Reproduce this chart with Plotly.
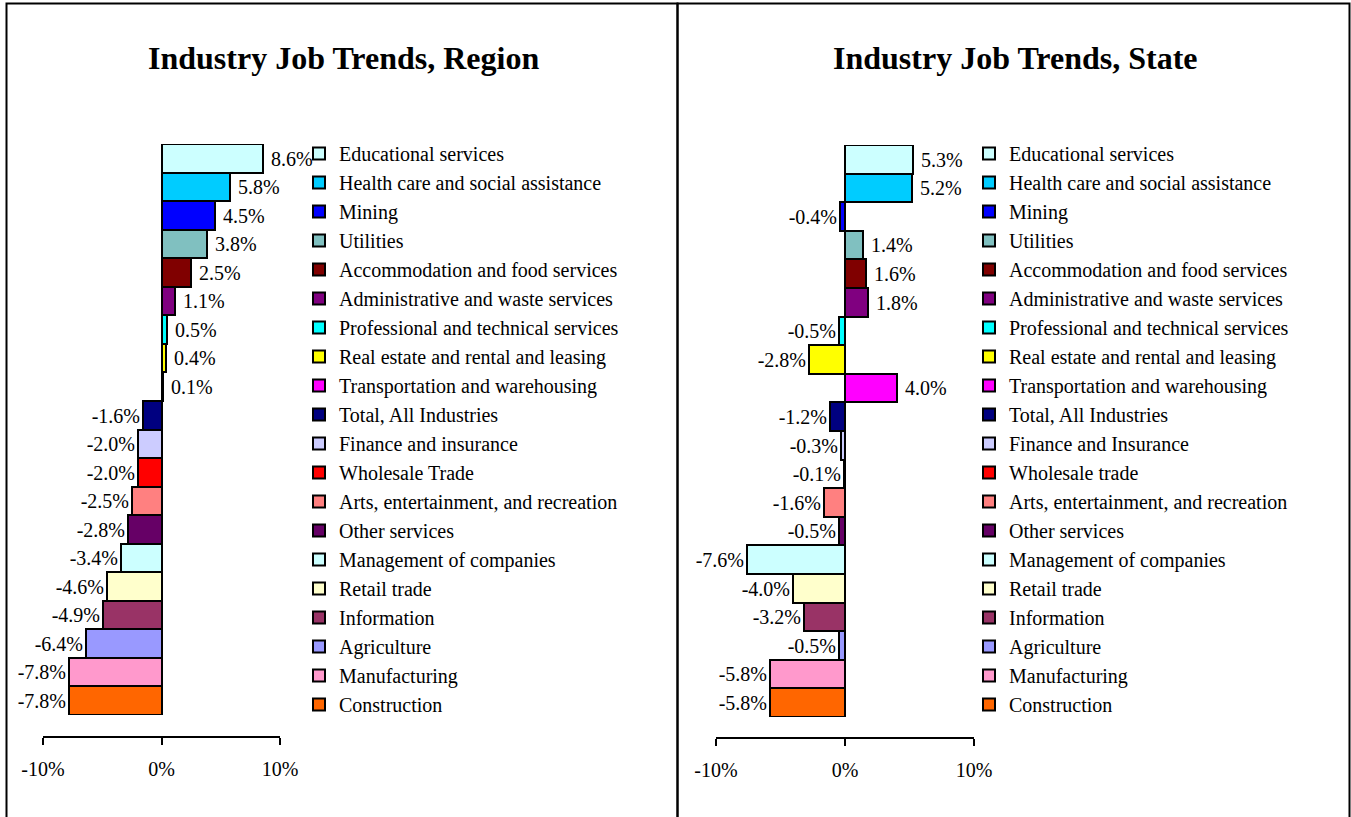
import plotly.graph_objects as go

# ---------------- data ----------------
categories_region = [
    "Educational services", "Health care and social assistance", "Mining", "Utilities",
    "Accommodation and food services", "Administrative and waste services",
    "Professional and technical services", "Real estate and rental and leasing",
    "Transportation and warehousing", "Total, All Industries", "Finance and insurance",
    "Wholesale Trade", "Arts, entertainment, and recreation", "Other services",
    "Management of companies", "Retail trade", "Information", "Agriculture",
    "Manufacturing", "Construction",
]
values_region = [8.6, 5.8, 4.5, 3.8, 2.5, 1.1, 0.5, 0.4, 0.1, -1.6, -2.0, -2.0,
                 -2.5, -2.8, -3.4, -4.6, -4.9, -6.4, -7.8, -7.8]

categories_state = [
    "Educational services", "Health care and social assistance", "Mining", "Utilities",
    "Accommodation and food services", "Administrative and waste services",
    "Professional and technical services", "Real estate and rental and leasing",
    "Transportation and warehousing", "Total, All Industries", "Finance and Insurance",
    "Wholesale trade", "Arts, entertainment, and recreation", "Other services",
    "Management of companies", "Retail trade", "Information", "Agriculture",
    "Manufacturing", "Construction",
]
values_state = [5.3, 5.2, -0.4, 1.4, 1.6, 1.8, -0.5, -2.8, 4.0, -1.2, -0.3, -0.1,
                -1.6, -0.5, -7.6, -4.0, -3.2, -0.5, -5.8, -5.8]

colors = ["#CCFFFF", "#00CCFF", "#0000FF", "#80C0C0", "#800000", "#800080", "#00FFFF",
          "#FFFF00", "#FF00FF", "#000080", "#CCCCFF", "#FF0000", "#FF8080", "#660066",
          "#CCFFFF", "#FFFFCC", "#993366", "#9999FF", "#FF99CC", "#FF6600"]

titles = ["Industry Job Trends, Region", "Industry Job Trends, State"]
tick_vals = [-10, 0, 10]
tick_text = ["-10%", "0%", "10%"]

# ---------------- figure ----------------
W, H = 1351, 817
FONT = "Liberation Serif, Times New Roman, serif"

fig = go.Figure()

panels = [
    (categories_region, values_region, "x", "y", "legend"),
    (categories_state, values_state, "x2", "y2", "legend2"),
]
for cats, vals, xa, ya, lg in panels:
    for c, v, col in zip(cats, vals, colors):
        fig.add_trace(go.Bar(
            y=[c], x=[v], orientation="h", name=c,
            xaxis=xa, yaxis=ya, legend=lg,
            marker=dict(color=col, line=dict(color="black", width=2)),
            texttemplate=(" %{x:.1f}%" if v >= 0 else "%{x:.1f}%"),
            textposition="outside",
            outsidetextfont=dict(family=FONT, size=20, color="black"),
            constraintext="none", cliponaxis=False,
            hoverinfo="skip",
        ))


def px_x(p):
    return p / W


def px_y(p):
    return 1 - p / H


axis_common = dict(
    range=[-10, 10], tickmode="array", tickvals=tick_vals, ticktext=tick_text,
    showgrid=False, zeroline=True, zerolinecolor="black", zerolinewidth=1,
    showline=True, linecolor="black", linewidth=2,
    ticks="outside", ticklen=7, tickwidth=2, tickcolor="black",
    tickfont=dict(family=FONT, size=20, color="black"),
    ticklabelstandoff=7, anchor="free", fixedrange=True, automargin=False,
)
yaxis_common = dict(
    type="category", showticklabels=False, showgrid=False, zeroline=False,
    showline=False, ticks="", range=[19.5, -0.5], fixedrange=True, automargin=False,
)

legend_common = dict(
    font=dict(family=FONT, size=20, color="black"), traceorder="normal",
    bgcolor="rgba(0,0,0,0)", xanchor="left", yanchor="top", borderwidth=0,
)

fig.update_layout(
    template="none",
    width=W, height=H, autosize=False,
    margin=dict(l=0, r=0, t=0, b=0, pad=0),
    paper_bgcolor="white", plot_bgcolor="white",
    barmode="overlay", bargap=0,
    showlegend=True,
    font=dict(family=FONT, color="black"),
    xaxis=dict(domain=[px_x(43), px_x(280)], position=px_y(737), **axis_common),
    xaxis2=dict(domain=[px_x(716), px_x(974)], position=px_y(738), **axis_common),
    yaxis=dict(domain=[px_y(715), px_y(144)], categoryorder="array",
               categoryarray=categories_region, **yaxis_common),
    yaxis2=dict(domain=[px_y(717), px_y(145)], categoryorder="array",
                categoryarray=categories_state, **yaxis_common),
    legend=dict(x=px_x(299), y=px_y(134), **legend_common),
    legend2=dict(x=px_x(969), y=px_y(134), **legend_common),
    annotations=[
        dict(text="<b>%s</b>" % titles[0], x=px_x(343), y=px_y(58), xref="paper", yref="paper",
             showarrow=False, xanchor="center", yanchor="middle",
             font=dict(family=FONT, size=32, color="black")),
        dict(text="<b>%s</b>" % titles[1], x=px_x(1015), y=px_y(58), xref="paper", yref="paper",
             showarrow=False, xanchor="center", yanchor="middle",
             font=dict(family=FONT, size=32, color="black")),
    ],
    shapes=[
        dict(type="rect", xref="paper", yref="paper", x0=px_x(6.5), x1=px_x(677.5),
             y0=px_y(830), y1=px_y(3.5), line=dict(color="black", width=2),
             fillcolor="rgba(0,0,0,0)", layer="above"),
        dict(type="rect", xref="paper", yref="paper", x0=px_x(677.5), x1=px_x(1349.5),
             y0=px_y(830), y1=px_y(3.5), line=dict(color="black", width=2),
             fillcolor="rgba(0,0,0,0)", layer="above"),
    ],
)

fig.write_html("out.html")
